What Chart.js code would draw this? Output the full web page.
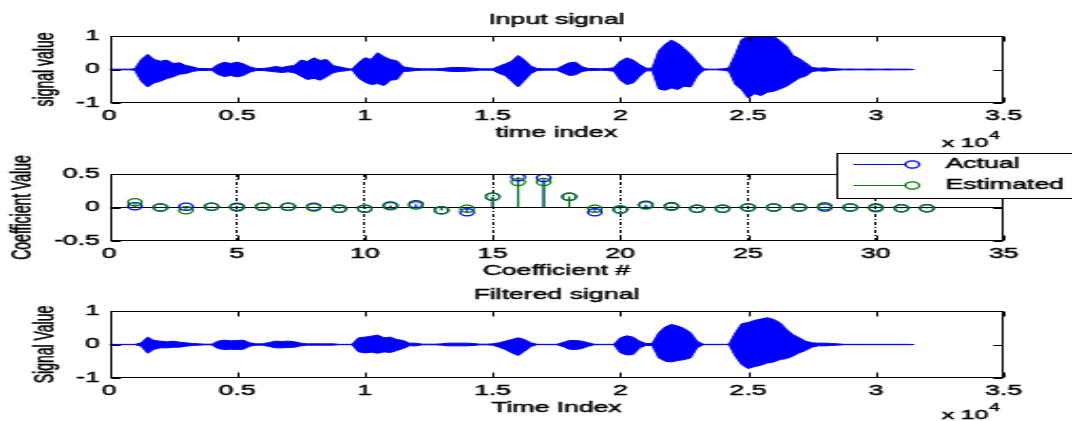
<!DOCTYPE html>
<html>
<head>
<meta charset="utf-8">
<script src="https://cdn.jsdelivr.net/npm/chart.js@4.4.1/dist/chart.umd.min.js"></script>
<style>
  html, body { margin: 0; padding: 0; background: #fff; width: 1072px; height: 421px; overflow: hidden; }
  canvas { position: absolute; left: 0; }
</style>
</head>
<body>
<!-- the figure is horizontally stretched, so every canvas is drawn 564 wide and shown 1072 wide -->
<canvas id="c1" width="564" height="150" style="top:0px;width:1072px;height:150px"></canvas>
<canvas id="c2" width="564" height="135" style="top:150px;width:1072px;height:135px"></canvas>
<canvas id="c3" width="564" height="141" style="top:280px;width:1072px;height:141px"></canvas>
<script>
// envelopes of the two waveforms (max / min), read every 250 samples
const envelopeStep = 250;
const inputUpper = [
  0.01, 0.01, 0.01, 0.01, 0.02,  0.3, 0.45, 0.3, 0.25, 0.28,
  0.18, 0.2, 0.12, 0.08, 0.03,  0.03, 0.02, 0.15, 0.22, 0.18,
  0.22, 0.17, 0.08, 0.03, 0.03,  0.05, 0.09, 0.06, 0.1, 0.12,
  0.28, 0.24, 0.35, 0.27, 0.3,  0.12, 0.08, 0.04, 0.01, 0.2,
  0.35, 0.3, 0.5, 0.38, 0.3,  0.26, 0.08, 0.05, 0.03, 0.02,
  0.02, 0.02, 0.03, 0.05, 0.06,  0.06, 0.05, 0.04, 0.02, 0.02,
  0.02, 0.1, 0.17, 0.25, 0.42,  0.28, 0.1, 0.03, 0.02, 0.02,
  0.02, 0.12, 0.2, 0.22, 0.08,  0.03, 0.03, 0.02, 0.03, 0.05,
  0.25, 0.35, 0.28, 0.15, 0.04,  0.04, 0.55, 0.75, 0.88, 0.78,
  0.62, 0.45, 0.22, 0.02, 0.01,  0.01, 0.02, 0.05, 0.45, 0.9,
  1, 1, 1, 1, 1,  0.85, 0.7, 0.42, 0.33, 0.2,
  0.06, 0.04, 0.05, 0.03, 0.02,  0.01, 0.015, 0.01, 0.01, 0.015,
  0.01, 0.01, 0.015, 0.01, 0.01,  0.01, 0
];
const inputLower = [
  -0.01, -0.01, -0.01, -0.01, -0.02,  -0.35, -0.52, -0.4, -0.35, -0.27,
  -0.22, -0.14, -0.12, -0.06, -0.03,  -0.03, -0.02, -0.15, -0.21, -0.18,
  -0.22, -0.18, -0.08, -0.03, -0.03,  -0.05, -0.07, -0.09, -0.07, -0.1,
  -0.2, -0.3, -0.26, -0.32, -0.22,  -0.1, -0.06, -0.04, -0.01, -0.25,
  -0.38, -0.45, -0.42, -0.48, -0.32,  -0.3, -0.06, -0.05, -0.03, -0.02,
  -0.02, -0.02, -0.03, -0.05, -0.06,  -0.06, -0.05, -0.04, -0.02, -0.02,
  -0.02, -0.12, -0.18, -0.35, -0.52,  -0.32, -0.12, -0.03, -0.02, -0.02,
  -0.02, -0.1, -0.18, -0.16, -0.06,  -0.03, -0.03, -0.02, -0.03, -0.05,
  -0.32, -0.45, -0.4, -0.2, -0.04,  -0.04, -0.58, -0.62, -0.55, -0.6,
  -0.5, -0.52, -0.2, -0.02, -0.01,  -0.01, -0.02, -0.05, -0.45, -0.6,
  -0.85, -0.72, -0.78, -0.68, -0.65,  -0.58, -0.5, -0.38, -0.25, -0.2,
  -0.06, -0.04, -0.05, -0.03, -0.02,  -0.01, -0.015, -0.01, -0.01, -0.015,
  -0.01, -0.01, -0.015, -0.01, -0.01,  -0.01, 0
];
const filteredUpper = [
  0.004, 0.004, 0.004, 0.004, 0.004,  0.05, 0.22, 0.12, 0.1, 0.08,
  0.1, 0.07, 0.05, 0.03, 0.02,  0.01, 0.01, 0.1, 0.13, 0.11,
  0.12, 0.13, 0.05, 0.02, 0.02,  0.06, 0.1, 0.09, 0.1, 0.08,
  0.04, 0.02, 0.02, 0.02, 0.02,  0.02, 0.005, 0.005, 0.005, 0.2,
  0.22, 0.25, 0.28, 0.2, 0.22,  0.15, 0.12, 0.04, 0.04, 0.01,
  0.01, 0.01, 0.02, 0.04, 0.04,  0.04, 0.04, 0.03, 0.01, 0.01,
  0.02, 0.05, 0.1, 0.15, 0.2,  0.15, 0.05, 0.005, 0.005, 0.005,
  0.005, 0.06, 0.12, 0.12, 0.1,  0.05, 0.005, 0.005, 0.005, 0.005,
  0.2, 0.26, 0.22, 0.1, 0.03,  0.03, 0.35, 0.52, 0.6, 0.55,
  0.48, 0.35, 0.1, 0.005, 0.005,  0.005, 0.005, 0.005, 0.35, 0.62,
  0.66, 0.72, 0.76, 0.8, 0.75,  0.65, 0.45, 0.3, 0.2, 0.1,
  0.05, 0.04, 0.04, 0.03, 0.02,  0.005, 0.005, 0.005, 0.005, 0.005,
  0.005, 0.005, 0.005, 0.005, 0.005,  0.005, 0
];
const filteredLower = [
  -0.004, -0.004, -0.004, -0.004, -0.004,  -0.05, -0.26, -0.14, -0.1, -0.1,
  -0.08, -0.08, -0.05, -0.03, -0.02,  -0.01, -0.01, -0.12, -0.15, -0.14,
  -0.15, -0.14, -0.05, -0.02, -0.02,  -0.06, -0.1, -0.1, -0.09, -0.08,
  -0.04, -0.02, -0.02, -0.02, -0.02,  -0.02, -0.005, -0.005, -0.005, -0.22,
  -0.25, -0.23, -0.26, -0.22, -0.24,  -0.18, -0.12, -0.04, -0.04, -0.01,
  -0.01, -0.01, -0.02, -0.04, -0.04,  -0.04, -0.04, -0.03, -0.01, -0.01,
  -0.02, -0.08, -0.15, -0.25, -0.33,  -0.2, -0.06, -0.005, -0.005, -0.005,
  -0.005, -0.06, -0.14, -0.15, -0.12,  -0.05, -0.005, -0.005, -0.005, -0.005,
  -0.25, -0.31, -0.3, -0.1, -0.03,  -0.03, -0.4, -0.5, -0.52, -0.48,
  -0.45, -0.4, -0.1, -0.005, -0.005,  -0.005, -0.005, -0.005, -0.35, -0.6,
  -0.72, -0.66, -0.62, -0.55, -0.52,  -0.45, -0.42, -0.35, -0.25, -0.18,
  -0.08, -0.04, -0.04, -0.03, -0.02,  -0.005, -0.005, -0.005, -0.005, -0.005,
  -0.005, -0.005, -0.005, -0.005, -0.005,  -0.005, 0
];

const timeTicks = [0, 5000, 10000, 15000, 20000, 25000, 30000, 35000];
const timeTickLabels = ['0', '0.5', '1', '1.5', '2', '2.5', '3', '3.5'];
const signalTicks = [-1, 0, 1];

// filter coefficients
const coefIndex = [1, 2, 3, 4, 5, 6, 7, 8, 9, 10, 11, 12, 13, 14, 15, 16,
                   17, 18, 19, 20, 21, 22, 23, 24, 25, 26, 27, 28, 29, 30, 31, 32];
const actualCoef = [0.02, 0, 0.01, 0.01, 0.01, 0.01, 0.01, 0.01, -0.02, -0.02, 0.03, 0.05, -0.04, -0.07, 0.16, 0.45,
                    0.44, 0.16, -0.07, -0.03, 0.04, 0.02, -0.02, -0.02, 0, 0, 0, 0, 0, 0, -0.01, -0.01];
const estimatedCoef = [0.08, 0, -0.04, 0.01, 0, 0.01, 0.01, 0, -0.02, -0.02, 0.02, 0.03, -0.04, -0.02, 0.16, 0.38,
                       0.38, 0.16, -0.02, -0.03, 0.03, 0.01, -0.02, -0.02, 0, 0, 0, 0.02, 0, -0.01, -0.01, -0.01];
const coefTicks = [0, 5, 10, 15, 20, 25, 30, 35];
const coefValueTicks = [-0.5, 0, 0.5];

const BLUE = '#0000ff';
const GREEN = '#008000';
const FONT = "'Liberation Sans', Arial, Helvetica, sans-serif";
const TEXT_STROKE = 0.45;   // the source text is rendered a little heavy

Chart.defaults.font.family = FONT;
Chart.defaults.font.size = 14;
Chart.defaults.color = '#000';

const plotLeft = 57.5;     // canvas units
const plotRightPad = 36;

function heavyText(ctx, str, x, y, size, align, rotate) {
  ctx.save();
  ctx.translate(x, y);
  if (rotate) ctx.rotate(-Math.PI / 2);
  ctx.font = size + 'px ' + FONT;
  ctx.textAlign = align;
  ctx.textBaseline = 'middle';
  ctx.fillStyle = '#000';
  ctx.strokeStyle = '#000';
  ctx.lineWidth = TEXT_STROKE;
  ctx.fillText(str, 0, 0);
  ctx.strokeText(str, 0, 0);
  ctx.restore();
}

// MATLAB style box, inward ticks, titles, exponent label and legend
const matlabFrame = {
  id: 'matlabFrame',
  afterDraw(chart, args, opts) {
    const ctx = chart.ctx;
    const a = chart.chartArea;
    const xs = chart.scales.x, ys = chart.scales.y;
    const L = Math.round(a.left) + 0.5, R = Math.round(a.right) - 0.5;
    const T = Math.round(a.top) + 0.5, B = Math.round(a.bottom) - 0.5;
    ctx.save();
    ctx.strokeStyle = '#000';
    ctx.lineWidth = 1;
    ctx.beginPath();
    xs.ticks.forEach(t => {
      const px = Math.round(xs.getPixelForValue(t.value)) + 0.5;
      ctx.moveTo(px, B); ctx.lineTo(px, B - 5);
      ctx.moveTo(px, T); ctx.lineTo(px, T + 5);
    });
    ys.ticks.forEach(t => {
      const py = Math.round(ys.getPixelForValue(t.value)) + 0.5;
      ctx.moveTo(L, py); ctx.lineTo(L + 5, py);
      ctx.moveTo(R, py); ctx.lineTo(R - 5, py);
    });
    ctx.stroke();
    ctx.strokeRect(L, T, R - L, B - T);
    ctx.restore();

    const cx = (a.left + a.right) / 2, cy = (a.top + a.bottom) / 2;
    if (opts.title) heavyText(ctx, opts.title, cx, opts.titleY, 14, 'center');
    heavyText(ctx, opts.xTitle, cx, opts.xTitleY, 14, 'center');
    heavyText(ctx, opts.yTitle, opts.yTitleX, cy, 14, 'center', true);
    if (opts.expY) {
      ctx.font = '13px ' + FONT;
      const w = ctx.measureText('x 10').width;
      heavyText(ctx, 'x 10', 495.5, opts.expY, 13, 'left');
      heavyText(ctx, '4', 495.5 + w + 0.5, opts.expY - 7, 10, 'left');
    }
    if (opts.legend) {
      const lg = opts.legend;
      ctx.save();
      ctx.fillStyle = '#fff';
      ctx.fillRect(lg.x, lg.y, lg.w, lg.h);
      ctx.strokeStyle = '#000';
      ctx.lineWidth = 1;
      ctx.strokeRect(lg.x + 0.5, lg.y + 0.5, lg.w, lg.h);
      chart.data.datasets.filter(d => d.legendRow !== undefined).forEach(d => {
        const y = lg.y + 11.5 + d.legendRow * 21;
        ctx.strokeStyle = d.borderColor;
        ctx.lineWidth = 1;
        ctx.beginPath();
        ctx.moveTo(lg.x + 9, y);
        ctx.lineTo(lg.x + 36.5, y);
        ctx.stroke();
        ctx.lineWidth = 1.25;
        ctx.beginPath();
        ctx.arc(lg.x + 40, y, 3.6, 0, Math.PI * 2);
        ctx.stroke();
        heavyText(ctx, d.label, lg.x + 57.5, y, 14, 'left');
      });
      ctx.restore();
    }
  }
};

const tickFont = { padding: 5, textStrokeColor: '#000', textStrokeWidth: TEXT_STROKE };

function signalChart(id, upper, lower, padTop, xAxisH, frame) {
  const pts = arr => arr.map((v, i) => ({ x: i * envelopeStep, y: v }));
  return new Chart(document.getElementById(id), {
    type: 'line',
    data: {
      datasets: [
        { data: pts(upper), borderColor: BLUE, borderWidth: 1, pointRadius: 0, fill: false },
        { data: pts(lower), borderColor: BLUE, borderWidth: 1, pointRadius: 0, fill: '-1', backgroundColor: BLUE }
      ]
    },
    options: {
      responsive: false,
      animation: false,
      devicePixelRatio: 1,
      layout: { padding: { top: padTop, right: plotRightPad, left: 0, bottom: 0 } },
      plugins: { legend: { display: false }, tooltip: { enabled: false }, matlabFrame: frame },
      scales: {
        x: {
          type: 'linear', min: 0, max: 35000,
          afterBuildTicks: s => { s.ticks = timeTicks.map(v => ({ value: v })); },
          afterFit: s => { s.height = xAxisH; },
          ticks: { ...tickFont, padding: 4.5, maxRotation: 0, autoSkip: false,
                   callback: (v, i) => timeTickLabels[i] },
          grid: { display: false, drawTicks: false },
          border: { display: false }
        },
        y: {
          min: -1, max: 1,
          afterBuildTicks: s => { s.ticks = signalTicks.map(v => ({ value: v })); },
          afterFit: s => { s.width = plotLeft; },
          ticks: tickFont,
          grid: { display: false, drawTicks: false },
          border: { display: false }
        }
      }
    },
    plugins: [matlabFrame]
  });
}

signalChart('c1', inputUpper, inputLower, 36, 47,
  { title: 'Input signal', titleY: 20, xTitle: 'time index', xTitleY: 133,
    yTitle: 'signal value', yTitleX: 23.7, expY: 143 });

signalChart('c3', filteredUpper, filteredLower, 31, 43,
  { title: 'Filtered signal', titleY: 15, xTitle: 'Time Index', xTitleY: 128,
    yTitle: 'Signal Value', yTitleX: 24, expY: 135 });

// coefficient stem plot
const stemPts = arr => arr.map((v, i) => ({ x: coefIndex[i], y: v }));
new Chart(document.getElementById('c2'), {
  type: 'bar',
  data: {
    datasets: [
      { type: 'line', label: 'Estimated', legendRow: 1, data: stemPts(estimatedCoef), showLine: false,
        borderColor: GREEN, pointBorderColor: GREEN, pointBackgroundColor: 'rgba(0,0,0,0)',
        pointRadius: 3.6, pointBorderWidth: 1.25, order: 0 },
      { type: 'bar', data: stemPts(estimatedCoef), backgroundColor: GREEN, barThickness: 1,
        inflateAmount: 0, grouped: false, borderWidth: 0, order: 1 },
      { type: 'line', label: 'Actual', legendRow: 0, data: stemPts(actualCoef), showLine: false,
        borderColor: BLUE, pointBorderColor: BLUE, pointBackgroundColor: 'rgba(0,0,0,0)',
        pointRadius: 3.6, pointBorderWidth: 1.25, order: 2 },
      { type: 'bar', data: stemPts(actualCoef), backgroundColor: BLUE, barThickness: 1,
        inflateAmount: 0, grouped: false, borderWidth: 0, order: 3 }
    ]
  },
  options: {
    responsive: false,
    animation: false,
    devicePixelRatio: 1,
    layout: { padding: { top: 24, right: plotRightPad, left: 0, bottom: 0 } },
    plugins: {
      legend: { display: false }, tooltip: { enabled: false },
      matlabFrame: { xTitle: 'Coefficient #', xTitleY: 121, yTitle: 'Coefficient Value', yTitleX: 11.8,
                     legend: { x: 440, y: 3, w: 140, h: 45 } }
    },
    scales: {
      x: {
        type: 'linear', min: 0, max: 35, offset: false,
        afterBuildTicks: s => { s.ticks = coefTicks.map(v => ({ value: v })); },
        afterFit: s => { s.height = 44; },
        ticks: { ...tickFont, padding: 4.5, maxRotation: 0, autoSkip: false },
        grid: {
          offset: false, drawTicks: false, lineWidth: 1,
          color: c => (c.tick && (c.tick.value === 0 || c.tick.value === 35)) ? 'rgba(0,0,0,0)' : '#000'
        },
        border: { display: false, dash: [3, 2, 1, 2] }
      },
      y: {
        min: -0.5, max: 0.5,
        afterBuildTicks: s => { s.ticks = coefValueTicks.map(v => ({ value: v })); },
        afterFit: s => { s.width = plotLeft; },
        ticks: tickFont,
        grid: {
          drawTicks: false, lineWidth: 1,
          color: c => (c.tick && c.tick.value === 0) ? '#000' : 'rgba(0,0,0,0)'
        },
        border: { display: false }
      }
    }
  },
  plugins: [matlabFrame]
});
</script>
</body>
</html>
